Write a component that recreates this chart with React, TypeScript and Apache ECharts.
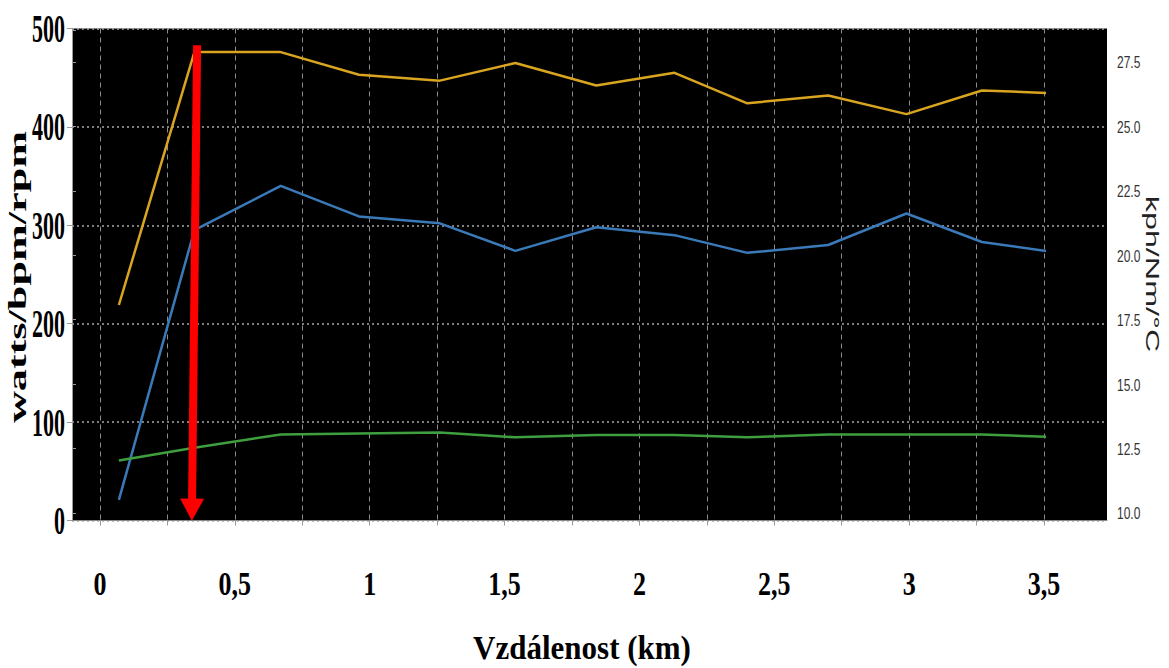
import React, { useEffect, useRef } from "react";
import * as echarts from "echarts";

const W = 1169;
const H = 668;

// Lap distances (km) and the three recorded channels
const distanceKm = [0.07, 0.35, 0.67, 0.96, 1.26, 1.54, 1.84, 2.13, 2.4, 2.7, 2.99, 3.27, 3.56];
const watts = [219, 476, 476, 453, 447, 465, 442, 455, 424, 432, 413, 437, 434];
const bpm = [21, 295, 340, 309, 302, 274, 298, 290, 272, 280, 312, 283, 272];
const rpm = [61, 74, 87.5, 88.5, 89.5, 84.5, 87, 87, 84.5, 87.5, 87.5, 87.5, 84.5];

// Axis ticks and labels
const leftTicks = [0, 100, 200, 300, 400, 500];
const rightTicks = [10, 12.5, 15, 17.5, 20, 22.5, 25, 27.5];
const xTickValues = [0, 0.5, 1, 1.5, 2, 2.5, 3, 3.5];
const xTickLabels = ["0", "0,5", "1", "1,5", "2", "2,5", "3", "3,5"];

// Highlighted position (km, value) for the red marker arrow
const markerFrom = [0.36, 483];
const markerTo = [0.341, 11];

const SERIF = '"Liberation Serif", "Times New Roman", serif';
const SANS = '"Liberation Sans", Arial, sans-serif';

const pairs = (ys: number[]) => ys.map((v, i) => [distanceKm[i], v]);

export default function App() {
  const ref = useRef<HTMLDivElement>(null);

  useEffect(() => {
    document.body.style.margin = "0";
    const chart = echarts.init(ref.current!, null, { renderer: "svg" });

    const lineSeries = (name: string, data: number[], color: string, extra: any = {}) => ({
      name,
      type: "line",
      xAxisIndex: 1,
      yAxisIndex: 1,
      data: pairs(data),
      symbol: "none",
      clip: false,
      lineStyle: { color, width: 2.5 },
      itemStyle: { color },
      z: 3,
      ...extra,
    });

    chart.setOption({
      animation: false,
      grid: [
        { left: 72, right: W - 1107, top: 28.5, bottom: 147.5, show: true, backgroundColor: "#000", borderWidth: 0 },
        { left: 100, right: W - 1044, top: 28.5, bottom: 147.5 },
        { left: 72, right: W - 1107, top: 29.8, bottom: H - 513 },
      ],
      xAxis: [
        {
          gridIndex: 0, type: "value", min: 0, max: 1,
          axisLine: { show: true, lineStyle: { color: "#8a8a8a", width: 1 } },
          axisTick: { show: false }, axisLabel: { show: false }, splitLine: { show: false },
        },
        {
          gridIndex: 1, type: "value", min: 0, max: 3.5, interval: 0.25,
          axisLine: { show: false },
          axisTick: { show: true, length: 5, lineStyle: { color: "#9a9a9a" } },
          axisLabel: { show: false },
          splitLine: { show: true, lineStyle: { color: "#8c8c8c", width: 1, type: [5, 4] } },
        },
        { gridIndex: 2, type: "value", min: 0, max: 1, show: false },
      ],
      yAxis: [
        {
          gridIndex: 0, type: "value", min: 0, max: 500, interval: 100,
          axisLine: { show: true, lineStyle: { color: "#9a9a9a" } },
          axisTick: { show: true, length: 5, lineStyle: { color: "#9a9a9a" } },
          axisLabel: { show: false },
          splitLine: { show: true, lineStyle: { color: "#a8a8a8", width: 1.5, type: [2, 3] } },
        },
        { gridIndex: 1, type: "value", min: 0, max: 500, show: false },
        {
          gridIndex: 2, type: "value", position: "right", min: 10, max: 28.75, interval: 2.5,
          axisLine: { show: false },
          axisTick: { show: true, length: 4, lineStyle: { color: "#9a9a9a" } },
          axisLabel: { show: false },
          splitLine: { show: false },
        },
      ],
      series: [
        lineSeries("watts", watts, "#d9a520", {
          markLine: {
            silent: true,
            symbol: ["none", "triangle"],
            symbolSize: [24, 22],
            label: { show: false },
            lineStyle: { color: "#ff0000", width: 8, type: "solid" },
            data: [[{ coord: markerFrom }, { coord: markerTo }]],
            z: 5,
          },
        }),
        lineSeries("bpm", bpm, "#3a7ab8"),
        lineSeries("rpm", rpm, "#3f9f3f"),
      ],
    });

    // Stretched axis texts, placed through the axes' own scales
    const elements: any[] = [];
    leftTicks.forEach((v) => {
      const y = chart.convertToPixel({ yAxisIndex: 0 } as any, v) as number;
      elements.push({
        type: "text", x: 65, y, scaleY: 1.8,
        style: { text: String(v), font: `bold 22px ${SERIF}`, fill: "#000", align: "right", verticalAlign: "middle" },
      });
    });
    rightTicks.forEach((v) => {
      const y = chart.convertToPixel({ yAxisIndex: 2 } as any, v) as number;
      elements.push({
        type: "text", x: 1117, y, scaleY: 1.45,
        style: { text: v.toFixed(1), font: `12px ${SANS}`, fill: "#333", align: "left", verticalAlign: "middle" },
      });
    });
    xTickValues.forEach((v, i) => {
      const x = chart.convertToPixel({ xAxisIndex: 1 } as any, v) as number;
      elements.push({
        type: "text", x, y: 584, scaleY: 1.3,
        style: { text: xTickLabels[i], font: `bold 26px ${SERIF}`, fill: "#000", align: "center", verticalAlign: "middle" },
      });
    });
    elements.push({
      type: "text", x: 17, y: 277, rotation: Math.PI / 2, scaleX: 1.7,
      style: { text: "watts/bpm/rpm", font: `bold 26px ${SERIF}`, fill: "#000", align: "center", verticalAlign: "middle" },
    });
    elements.push({
      type: "text", x: 1152, y: 274, rotation: -Math.PI / 2, scaleX: 1.7,
      style: { text: "kph/Nm/°C", font: `19px ${SANS}`, fill: "#222", align: "center", verticalAlign: "middle" },
    });
    elements.push({
      type: "text", x: 582, y: 647, scaleY: 1.1,
      style: { text: "Vzdálenost (km)", font: `bold 31px ${SERIF}`, fill: "#000", align: "center", verticalAlign: "middle" },
    });
    chart.setOption({ graphic: { elements } });

    return () => chart.dispose();
  }, []);

  return <div ref={ref} style={{ width: W, height: H }} />;
}
